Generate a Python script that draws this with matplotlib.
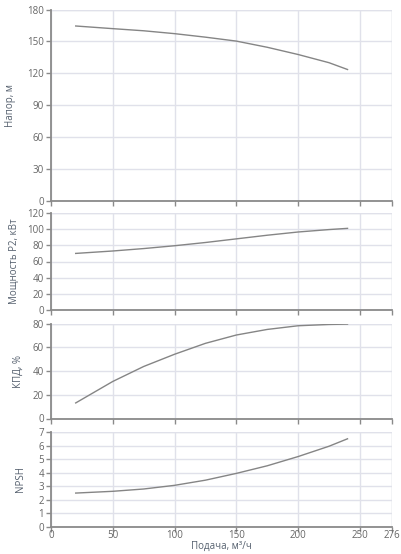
import matplotlib
matplotlib.use("Agg")
import matplotlib.pyplot as plt

plt.rcParams['font.family'] = ['Open Sans', 'DejaVu Sans']

# Data
flow = [20, 50, 75, 100, 125, 150, 175, 200, 225, 240]
head = [164.5, 162, 160, 157.3, 154, 150.3, 144.5, 137.7, 130, 123.6]
power = [70, 73, 76, 79.5, 83.5, 88, 92.5, 96.5, 99.5, 101]
efficiency = [13.1, 31.2, 43.8, 54.1, 63.3, 70.3, 75, 78.1, 79.2, 79.5]
npsh = [2.50, 2.63, 2.8, 3.07, 3.45, 3.95, 4.51, 5.19, 5.95, 6.5]

x_ticks = [0, 50, 100, 150, 200, 250, 276]
head_ticks = [0, 30, 60, 90, 120, 150, 180]
power_ticks = [0, 20, 40, 60, 80, 100, 120]
eff_ticks = [0, 20, 40, 60, 80]
npsh_ticks = [0, 1, 2, 3, 4, 5, 6, 7]

labels = ["Напор, м", "Мощность P2, кВт", "КПД, %", "NPSH"]
xlabel = "Подача, м³/ч"

W, H = 401, 554
fig = plt.figure(figsize=(W / 100, H / 100), dpi=100)

left_px, right_px = 51, 392
panels = [(9.5, 201), (213, 310), (323.5, 418.5), (432, 527)]
label_right_px = [16.5, 19.5, 24, 26]

series = [head, power, efficiency, npsh]
yticks = [head_ticks, power_ticks, eff_ticks, npsh_ticks]

tick_color = '#666666'
title_color = '#55606e'
spine_color = '#8a8a8a'
grid_color = '#e0e1ea'

for i, ((top, bot), ys, yt, lab, lr) in enumerate(zip(panels, series, yticks, labels, label_right_px)):
    ax = fig.add_axes([left_px / W, 1 - bot / H, (right_px - left_px) / W, (bot - top) / H])
    ax.plot(flow, ys, color='#858585', lw=1.0)
    ax.set_xlim(0, 276)
    ax.set_ylim(yt[0], yt[-1])
    ax.set_xticks(x_ticks)
    ax.set_yticks(yt)
    ax.grid(True, color=grid_color, lw=1.0)
    ax.set_axisbelow(True)
    for s in ['top', 'right']:
        ax.spines[s].set_visible(False)
    for s in ['left', 'bottom']:
        ax.spines[s].set_color(spine_color)
        ax.spines[s].set_linewidth(1.3)
    ax.tick_params(axis='both', colors=spine_color, length=3.5, width=1.0,
                   labelcolor=tick_color, labelsize=7, pad=1.5)
    ax.tick_params(axis='x', pad=-1.5)
    ax.axvline(276, color=grid_color, lw=1.0, zorder=0)
    ax.axhline(yt[-1], color=grid_color, lw=1.0, zorder=0)
    if i < 3:
        ax.tick_params(axis='x', labelbottom=False)
    else:
        ax.set_xlabel(xlabel, fontsize=7, color=title_color, va='center')
        ax.xaxis.set_label_coords(0.5, (bot - 546) / (bot - top))
    ax.set_ylabel(lab, fontsize=7, color=title_color)
    ax.yaxis.set_label_coords((lr - left_px) / (right_px - left_px), 0.5)

fig.savefig("out.png", dpi=100)
